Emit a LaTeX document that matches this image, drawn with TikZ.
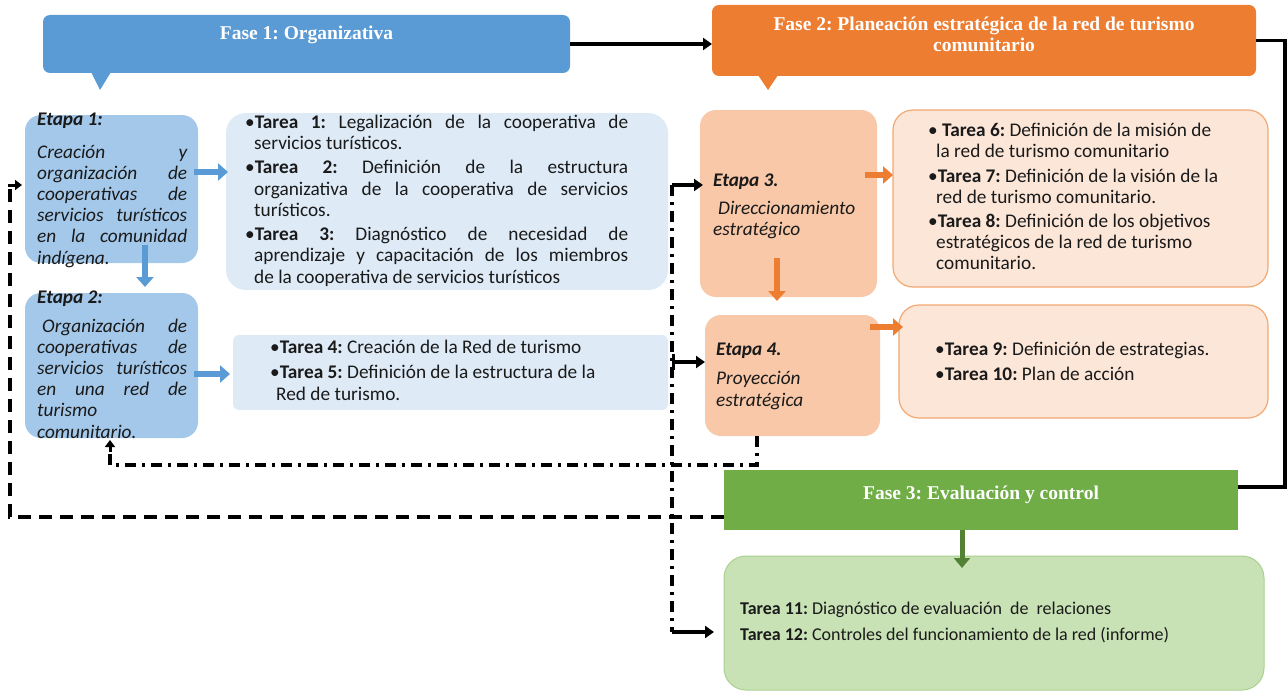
\documentclass[tikz,border=0pt]{standalone}
\usepackage{fontspec}
\setmainfont{Carlito}
\newfontfamily\tfont{Liberation Serif}
\usetikzlibrary{arrows.meta,calc}
\definecolor{faseblue}{HTML}{5B9BD5}
\definecolor{etblue}{HTML}{A4C8EA}
\definecolor{tkblue}{HTML}{DEEBF7}
\definecolor{faseorange}{HTML}{ED7D31}
\definecolor{etorange}{HTML}{F8C8A8}
\definecolor{tkorange}{HTML}{FCE6D8}
\definecolor{tkorangeline}{HTML}{F2A873}
\definecolor{fasegreen}{HTML}{70AD47}
\definecolor{tkgreen}{HTML}{C8E2B6}
\definecolor{tkgreenline}{HTML}{A9D18E}
\definecolor{arrgreen}{HTML}{548235}
\definecolor{txt}{HTML}{1A1A1A}
\newcommand\JL[2][0pt]{\noindent\hspace*{#1}\makebox[\dimexpr\linewidth-#1\relax][s]{#2}\par}
\newcommand\LL[2][0pt]{\noindent\hspace*{#1}#2\par}
\newcommand\TK[1]{\textbf{#1}}
\frenchspacing
\begin{document}
\begin{tikzpicture}[x=1pt,y=-1pt,
  boxbase/.style={inner sep=0pt,outer sep=0pt},
  fasebox/.style={boxbase,fill=#1},
  etapabox/.style={boxbase,fill=#1,rounded corners=16pt},
  title/.style={text=white,font=\tfont\bfseries\fontsize{19.5}{21}\selectfont,align=center,inner sep=0pt},
  body/.style={text=txt,inner sep=0pt,anchor=base west,font=\fontsize{19.3}{21}\selectfont},
  ebody/.style={body,font=\itshape\fontsize{19.3}{21.2}\selectfont},
  ehead/.style={body,font=\bfseries\itshape\fontsize{19.3}{20}\selectfont},
  barrow/.style={draw=faseblue,line width=5.5pt,-{Triangle[length=10pt,width=17pt]}},
  oarrow/.style={draw=faseorange,line width=5.5pt,-{Triangle[length=10pt,width=17pt]}},
  garrow/.style={draw=arrgreen,line width=5pt,-{Triangle[length=10pt,width=16pt]}},
  karrow/.style={draw=black,line width=3.4pt,-{Triangle[length=9pt,width=12pt]}},
  kline/.style={draw=black,line width=3.4pt},
  dashline/.style={draw=black,line width=3.6pt,dash pattern=on 13pt off 8pt},
  dashdotline/.style={draw=black,line width=3.6pt,dash pattern=on 11pt off 6pt on 3pt off 6pt},
]
\useasboundingbox (0,0) rectangle (1288,693);
\fill[white] (0,0) rectangle (1288,693);

% ---------- phase boxes ----------
\node[fasebox=faseblue,rounded corners=7pt,minimum width=527pt,minimum height=58pt] (f1) at (306.5,44) {};
\fill[faseblue] ($(f1.south west)+(48,-1)$) -- ($(f1.south west)+(68,-1)$) -- ($(f1.south west)+(57,17)$) -- cycle;
\node[title] (f1t) at (306.5,35) {Fase 1: Organizativa};

\node[fasebox=faseorange,rounded corners=7pt,minimum width=544pt,minimum height=71pt] (f2) at (984,40.5) {};
\fill[faseorange] ($(f2.south west)+(46,-1)$) -- ($(f2.south west)+(66,-1)$) -- ($(f2.south west)+(56,14)$) -- cycle;
\node[title] (f2t) at (984,34.5) {Fase 2: Planeación estratégica de la red de turismo\\comunitario};

\node[fasebox=fasegreen,minimum width=514pt,minimum height=60pt] (f3) at (981,500) {};
\node[title] (f3t) at (981,495) {Fase 3: Evaluación y control};

% ---------- etapa boxes ----------
\node[etapabox=etblue,minimum width=173pt,minimum height=148pt] (e1) at (111.5,189) {};
\node[etapabox=etblue,minimum width=173pt,minimum height=145pt] (e2) at (111.5,365.5) {};
\node[etapabox=etorange,minimum width=177pt,minimum height=187pt] (e3) at (788.5,203.5) {};
\node[etapabox=etorange,minimum width=175pt,minimum height=121pt] (e4) at (792.5,375.5) {};

% ---------- task boxes ----------
\node[boxbase,fill=tkblue,rounded corners=20pt,minimum width=442pt,minimum height=177pt] (tb1) at (447,201.5) {};
\node[boxbase,fill=tkblue,rounded corners=6pt,minimum width=435pt,minimum height=75pt] (tb2) at (450.5,372.5) {};
\node[boxbase,fill=tkorange,draw=tkorangeline,line width=1.2pt,rounded corners=20pt,minimum width=375pt,minimum height=177pt] (to1) at (1080.5,198.5) {};
\node[boxbase,fill=tkorange,draw=tkorangeline,line width=1.2pt,rounded corners=20pt,minimum width=369pt,minimum height=113pt] (to2) at (1083.5,361.5) {};
\node[boxbase,fill=tkgreen,draw=tkgreenline,line width=1pt,rounded corners=22pt,minimum width=540pt,minimum height=134pt] (tg) at (994,623) {};

% ---------- etapa texts ----------
\node[ehead] (e1h) at (37,125) {Etapa 1:};
\node[ebody] (e1b) at (37,158) {\begin{minipage}[t]{150pt}\parskip=0pt
\JL{Creación y}\JL{organización de}\JL{cooperativas de}\JL{servicios turísticos}\JL{en la comunidad}\LL{indígena.}\end{minipage}};

\node[ehead] (e2h) at (37,303) {Etapa 2:};
\node[ebody] (e2b) at (37,332) {\begin{minipage}[t]{150pt}\parskip=0pt
\JL[5pt]{Organización de}\JL{cooperativas de}\JL{servicios turísticos}\JL{en una red de}\LL{turismo}\LL{comunitario.}\end{minipage}};

\node[ehead] (e3h) at (713,186) {Etapa 3.};
\node[ebody] (e3b) at (713,214) {\begin{minipage}[t]{160pt}\parskip=0pt
\LL[5pt]{Direccionamiento}\LL{estratégico}\end{minipage}};

\node[ehead] (e4h) at (716,355) {Etapa 4.};
\node[ebody] (e4b) at (716,384) {\begin{minipage}[t]{160pt}\parskip=0pt\baselineskip=22pt
\LL{Proyección}\LL{estratégica}\end{minipage}};

% ---------- task texts ----------
\node[body] (tb1t) at (245,128) {\begin{minipage}[t]{383pt}\parskip=0pt\baselineskip=21.5pt
\JL{•\TK{Tarea 1:} Legalización de la cooperativa de}
\LL[9pt]{servicios turísticos.}\vspace{2.5pt}
\JL{•\TK{Tarea 2:} Definición de la estructura}
\JL[9pt]{organizativa de la cooperativa de servicios}
\LL[9pt]{turísticos.}\vspace{2.5pt}
\JL{•\TK{Tarea 3:} Diagnóstico de necesidad de}
\JL[9pt]{aprendizaje y capacitación de los miembros}
\LL[9pt]{de la cooperativa de servicios turísticos}\end{minipage}};

\node[body] (tb2t) at (270,353) {\begin{minipage}[t]{380pt}\parskip=0pt\baselineskip=22pt
\LL{•\TK{Tarea 4:} Creación de la Red de turismo}\vspace{3pt}
\LL{•\TK{Tarea 5:} Definición de la estructura de la}
\LL[6pt]{Red de turismo.}\end{minipage}};

\node[body] (to1t) at (928,136) {\begin{minipage}[t]{330pt}\parskip=0pt\baselineskip=21pt
\LL{• \TK{Tarea 6:} Definición de la misión de}
\LL[8pt]{la red de turismo comunitario}\vspace{4pt}
\LL{•\TK{Tarea 7:} Definición de la visión de la}
\LL[8pt]{red de turismo comunitario.}\vspace{3pt}
\LL{•\TK{Tarea 8:} Definición de los objetivos}
\LL[8pt]{estratégicos de la red de turismo}
\LL[8pt]{comunitario.}\end{minipage}};

\node[body] (to2t) at (935,355) {\begin{minipage}[t]{330pt}\parskip=0pt\baselineskip=25pt
\LL{•\TK{Tarea 9:} Definición de estrategias.}
\LL{•\TK{Tarea 10:} Plan de acción}\end{minipage}};

\node[body,font=\fontsize{18}{26}\selectfont] (tgt) at (740,614) {\begin{minipage}[t]{520pt}\parskip=0pt\baselineskip=26pt
\LL{\TK{Tarea 11:} Diagnóstico de evaluación\ \ de\ \ relaciones}
\LL{\TK{Tarea 12:} Controles del funcionamiento de la red (informe)}\end{minipage}};

% ---------- colored arrows ----------
\coordinate (a1) at ($(e1.east)+(-4,-17)$);
\draw[barrow] (a1) -- ($(a1 -| tb1.west)+(2,0)$);
\coordinate (a2) at ($(e1.south)+(33.5,-18)$);
\draw[barrow] (a2) -- ($(a2 |- e2.north)+(0,-6)$);
\coordinate (a3) at ($(e2.east)+(-4,8.5)$);
\draw[barrow] (a3) -- ($(a3 -| tb2.west)+(-3,0)$);
\coordinate (a4) at ($(e3.east)+(-12,-28.5)$);
\draw[oarrow] (a4) -- (a4 -| to1.west);
\coordinate (a5) at ($(e3.south)+(-11.5,-39)$);
\draw[oarrow] (a5) -- ($(a5 |- e4.north)+(0,-14)$);
\coordinate (a6) at ($(e4.east)+(-10,-48.5)$);
\draw[oarrow] (a6) -- ($(a6 -| to2.west)+(4,0)$);
\coordinate (a7) at ($(f3.south)+(-19,0)$);
\draw[garrow] (a7) -- ($(a7 |- tg.north)+(0,12)$);

% ---------- black solid connectors ----------
\draw[karrow] (f1.east) -- (f1.east -| f2.west);
\draw[kline] (f2.east) -- ++(29,0) |- ($(f3.east)+(0,-13)$);

% ---------- dashed feedback ----------
\coordinate (d1) at ($(f3.west)+(0,17)$);
\coordinate (d2) at ($(e1.west)+(-3,-4)$);
\draw[dashline] (d1) -| ($(d2)+(-12,0)$);
\draw[black,line width=3pt,-{Triangle[length=7pt,width=10pt]}] ($(d2)+(-13.6,0)$) -- (d2);

% ---------- dash-dot vertical ----------
\coordinate (v1) at ($(tb1.east)+(4,-16.5)$);
\coordinate (v2) at ($(v1 |- tg.west)+(0,9)$);
\draw[dashdotline] (v1) -- (v2);
\draw[karrow] (v1) -- ($(v1 -| e3.west)+(3,0)$);
\draw[karrow] (v2) -- ($(v2 -| tg.west)+(-10,0)$);
\coordinate (v3) at ($(v1 |- e4.west)+(0,-13.5)$);
\draw[black,line width=3.4pt,{Bar[width=16pt,line width=3.4pt]}-{Triangle[length=9pt,width=12pt]}] (v3) -- (v3 -| e4.west);

% ---------- dash-dot from etapa 4 to etapa 2 ----------
\coordinate (u1) at ($(e4.south)+(-35.5,0)$);
\coordinate (u2) at ($(e2.south)+(-1.5,2)$);
\draw[dashdotline] (u1) -- ++(0,29) -| ($(u2)+(0,10)$);
\draw[black,line width=3pt,-{Triangle[length=7pt,width=10pt]}] ($(u2)+(0,11.6)$) -- (u2);
\end{tikzpicture}
\end{document}
